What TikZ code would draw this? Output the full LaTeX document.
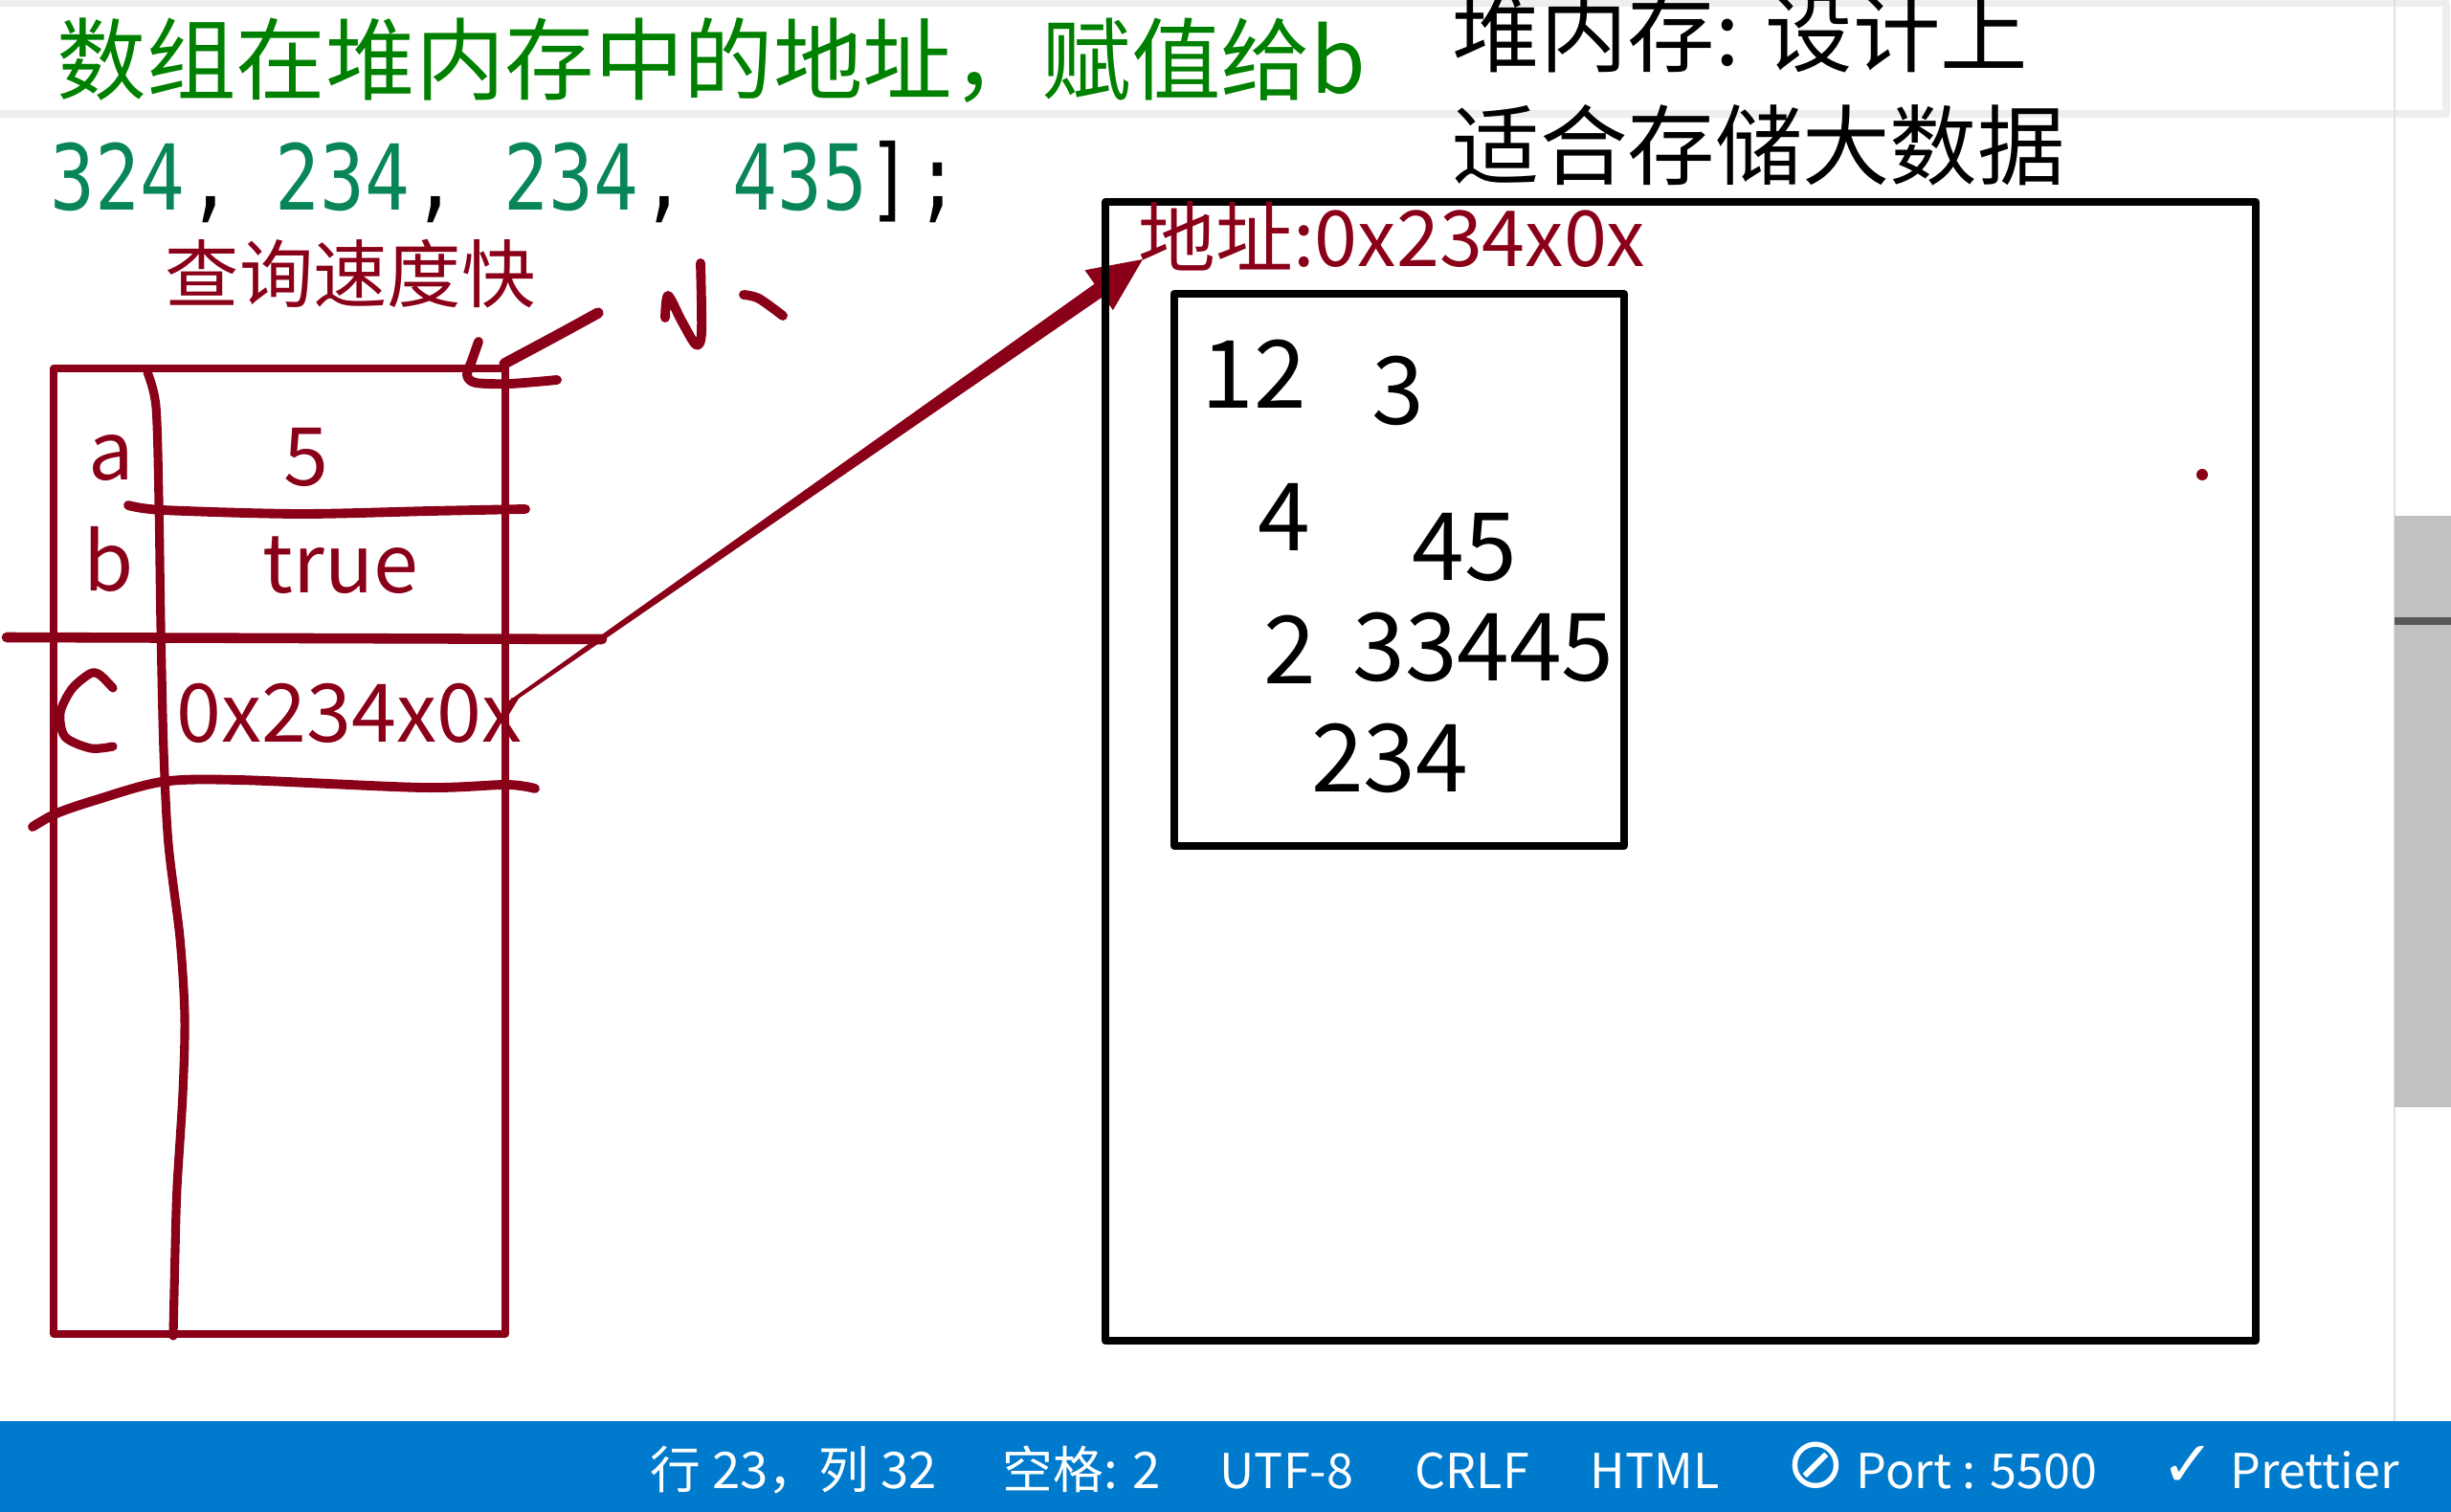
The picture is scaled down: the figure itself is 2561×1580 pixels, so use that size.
\documentclass[tikz,border=0pt]{standalone}
\usepackage{fontspec}
\setmainfont{Noto Sans CJK SC}
\newfontfamily\codefont{DejaVu Sans Mono}
\newfontfamily\symfont{DejaVu Sans}
\usepackage{tikz}

\definecolor{pen}{RGB}{138,0,24}
\definecolor{codegreen}{RGB}{0,128,0}
\definecolor{numteal}{RGB}{9,134,88}
\definecolor{statusblue}{RGB}{0,122,204}
\definecolor{linegray}{RGB}{238,238,238}
\definecolor{thumbgray}{RGB}{193,193,193}
\newcommand{\fsz}[1]{\fontsize{#1}{#1}\selectfont}
\newcommand{\narrow}[1]{\scalebox{0.82}[1]{#1}}

\tikzset{
  ink/.style={draw=pen,line cap=round,line join=round,line width=2.8pt},
  redlabel/.style={text=pen,inner sep=0pt,font=\fsz{24pt}},
  codenum/.style={text=numteal,inner sep=0pt,anchor=base west,font=\codefont\fsz{27pt}},
  codepunct/.style={text=black,inner sep=0pt,anchor=base,font=\codefont\fsz{27pt}},
  barlabel/.style={text=white,inner sep=0pt,anchor=base west,font=\fsz{15pt}},
  barword/.style={barlabel,font=\fsz{14.3pt}}
}

\begin{document}
\begin{tikzpicture}[x=0.01cm,y=-0.01cm,join=round] % stack vs heap sketch
        \useasboundingbox (0,0) rectangle (2561,1580);
        \draw[linegray,line width=2.2pt](-20,3.5) rectangle (2556,119);
        \draw[black!12,line width=0.6pt](2502,0)--(2502,1485);
        \fill[thumbgray](2502,539) rectangle (2570,1157);
        \fill[black!65](2502,645) rectangle (2570,653);
        \fill[statusblue](-5,1485) rectangle (2570,1590);
        % code lines
        \node[anchor=base east,inner sep=0pt,text=codegreen,font=\fsz{26.6pt}] (hint) at (1428,98) {，数组在堆内存中的地址，赋值给b};
        \node[codenum] (n324) at (52,220) {\narrow{324}};
        \node[codepunct] (c1) at (220,220) {\narrow{,}};
        \node[codenum] (n234a) at (287,220) {\narrow{234}};
        \node[codepunct] (c2) at (455,220) {\narrow{,}};
        \node[codenum] (n234b) at (526,220) {\narrow{234}};
        \node[codepunct] (c3) at (694,220) {\narrow{,}};
        \node[codenum] (n435) at (765,220) {\narrow{435}};
        \node[codepunct] (brk) at (930,220) {\narrow{]}};
        \node[codepunct] (semi) at (980,220) {\narrow{;}};
        \node[anchor=base west,inner sep=0pt,font=\fsz{26pt}] (heap1) at (1517,69) {堆内存: 设计上};
        \node[anchor=base west,inner sep=0pt,font=\fsz{26pt}] (heap2) at (1517,187) {适合存储大数据};
        % stack
        \node[anchor=base west,inner sep=0pt,text=pen,font=\fsz{22pt}] (fast) at (172,316) {查询速度快};
        \draw[pen,line width=2pt](56,385) rectangle (528,1394);
        \draw[ink,line width=2.6pt] plot[smooth] coordinates {(154,389) (163,425) (166,523) (168,653) (171,784) (176,882) (188,980) (193,1062) (191,1143) (185,1241) (183,1307) (181,1396)};
        \draw[ink] plot[smooth] coordinates {(134,528) (170,533) (312,537) (450,534) (549,532)};
        \draw[ink,line width=3pt](7,666)--(629,668);
        \draw[ink] plot[smooth] coordinates {(34,864) (59,850) (100,836) (169,817) (249,815) (441,823) (529,820) (559,824)};
        \draw[ink,line width=2.6pt] plot[smooth] coordinates {(118,719) (104,705) (94,704) (75,720) (63,745) (68,770) (95,782) (118,780)};
        \node[redlabel] (va) at (116,479) {a};
        \node[redlabel] (v5) at (320,478) {5};
        \node[redlabel] (vb) at (114,584) {b};
        \node[redlabel] (vtrue) at (356,591) {true};
        \node[redlabel] (vaddr) at (365,745) {0x234x0x};
        % hooks and 小
        \draw[ink,line width=3.2pt] plot[smooth] coordinates {(625,327) (583,350) (527,380)};
        \draw[ink] plot[smooth] coordinates {(500,357) (493,377) (488,392) (497,400) (533,401) (582,397)};
        \draw[ink] plot[smooth] coordinates {(695,332) (698,309) (712,335) (727,360) (733,348) (732,275)};
        \draw[ink] plot[smooth] coordinates {(777,308) (793,312) (818,330)};
        % pointer to heap
        \fill[pen](533,736)--(1152.8,309.7)--(1162.9,324.1)--(1194,271)--(1133.5,282.3)--(1143.6,296.7)--(531.5,732.5)--cycle;
        % heap
        \draw[line width=2.3pt](1155,211) rectangle (2357,1401);
        \draw[line width=2.3pt](1227,307) rectangle (1697,884);
        \node[anchor=base west,inner sep=0pt,text=pen,font=\fsz{23pt}] (addr) at (1189,279) {地址:0x234x0x};
        \fill[pen](2301,496) circle (0.06cm);
        \fill[black,font=\fsz{28pt}]
                (1310,391) node (h12) {12}
                (1461,408) node (h3) {3}
                (1342,540) node (h4) {4}
                (1530,572) node (h45) {45}
                (1348,679) node (h2) {2}
                (1550,676) node (h33445) {33445}
                (1452,792) node (h234) {234};
        % status bar
        \node[barlabel] (pos) at (679,1555) {行 23，列 32};
        \node[barlabel] (indent) at (1047,1555) {空格: 2};
        \node[barword] (enc) at (1274,1555) {UTF-8};
        \node[barword] (eol) at (1478,1555) {CRLF};
        \node[barword] (lang) at (1661,1555) {HTML};
        \node[text=white,inner sep=0pt,font=\symfont\fsz{21pt}] (porticon) at (1897,1531) {⊘};
        \node[barword] (port) at (1939,1555) {Port : 5500};
        \node[text=white,inner sep=0pt,font=\symfont\fsz{19pt}] (checkicon) at (2286,1532) {✓};
        \node[barword] (fmt) at (2330,1555) {Prettier};
\end{tikzpicture}
\end{document}
